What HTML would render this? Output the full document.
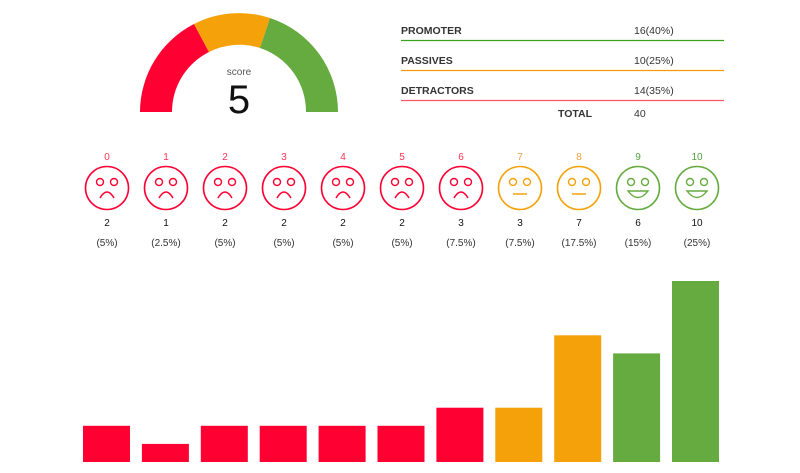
<!DOCTYPE html>
<html><head><meta charset="utf-8"><style>
body{margin:0;background:#fff;width:800px;height:468px;overflow:hidden;font-family:"Liberation Sans",sans-serif}
</style></head><body>
<svg width="800" height="468" xmlns="http://www.w3.org/2000/svg" font-family="Liberation Sans, sans-serif">
<path d="M140,112 A99,99 0 0 1 194,24 L209,52 A67,67 0 0 0 172,112 Z" fill="#ff0033"/>
<path d="M194,24 A99,99 0 0 1 270,18 L260,48 A67,67 0 0 0 209,52 Z" fill="#f5a20a"/>
<path d="M270,18 A99,99 0 0 1 338,112 L306,112 A67,67 0 0 0 260,48 Z" fill="#66ab40"/>
<text x="239" y="75" font-size="10" fill="#555" text-anchor="middle">score</text>
<text x="239" y="113" font-size="40" fill="#111" text-anchor="middle">5</text>
<g font-size="10.5" font-weight="bold" fill="#333">
<text x="401" y="34">PROMOTER</text><text x="634" y="34" font-weight="normal">16(40%)</text>
<text x="401" y="64">PASSIVES</text><text x="634" y="64" font-weight="normal">10(25%)</text>
<text x="401" y="94">DETRACTORS</text><text x="634" y="94" font-weight="normal">14(35%)</text>
<text x="558" y="117">TOTAL</text><text x="634" y="117" font-weight="normal">40</text>
</g>
<line x1="401" y1="40.5" x2="724" y2="40.5" stroke="#3aa31a" stroke-width="1.3"/>
<line x1="401" y1="70.5" x2="724" y2="70.5" stroke="#f59a10" stroke-width="1.3"/>
<line x1="401" y1="100.5" x2="724" y2="100.5" stroke="#ff5566" stroke-width="1.3"/>
<g id="faces"></g>
<g id="bars"></g>
</svg>
<script>
var counts=[2,1,2,2,2,2,3,3,7,6,10],pcts=["5%","2.5%","5%","5%","5%","5%","7.5%","7.5%","17.5%","15%","25%"];
var R="#ff0033",O="#f5a20a",G="#66ab40";
var f="",b="";
for(var i=0;i<11;i++){
var c=i<=6?R:(i<=8?O:G);var lc=i<=6?"#ff3355":(i<=8?"#f5a040":"#55a040");
var cx=107+i*59,cy=188;
f+='<text x="'+cx+'" y="160" font-size="10" fill="'+lc+'" text-anchor="middle">'+i+'</text>';
f+='<circle cx="'+cx+'" cy="'+cy+'" r="21.5" fill="none" stroke="'+c+'" stroke-width="1.6"/>';
f+='<circle cx="'+(cx-7)+'" cy="'+(cy-6)+'" r="3.5" fill="none" stroke="'+c+'" stroke-width="1.4"/>';
f+='<circle cx="'+(cx+7)+'" cy="'+(cy-6)+'" r="3.5" fill="none" stroke="'+c+'" stroke-width="1.4"/>';
if(i<=6)f+='<path d="M'+(cx-7)+','+(cy+10)+' Q'+cx+','+(cy-2)+' '+(cx+7)+','+(cy+10)+'" fill="none" stroke="'+c+'" stroke-width="1.5"/>';
else if(i<=8)f+='<line x1="'+(cx-7)+'" y1="'+(cy+6)+'" x2="'+(cx+7)+'" y2="'+(cy+6)+'" stroke="'+c+'" stroke-width="1.5"/>';
else f+='<path d="M'+(cx-10)+','+(cy+3)+' L'+(cx+10)+','+(cy+3)+' Q'+cx+','+(cy+16)+' '+(cx-10)+','+(cy+3)+' Z" fill="none" stroke="'+c+'" stroke-width="1.4"/>';
f+='<text x="'+cx+'" y="226" font-size="10" fill="#111" text-anchor="middle">'+counts[i]+'</text>';
f+='<text x="'+cx+'" y="246" font-size="10" fill="#333" text-anchor="middle">('+pcts[i]+')</text>';
var h=counts[i]*18.1,x=83+i*58.9;
b+='<rect x="'+x+'" y="'+(462-h)+'" width="47" height="'+h+'" fill="'+c+'"/>';
}
document.getElementById("faces").innerHTML=f;
document.getElementById("bars").innerHTML=b;
</script>
</body></html>
